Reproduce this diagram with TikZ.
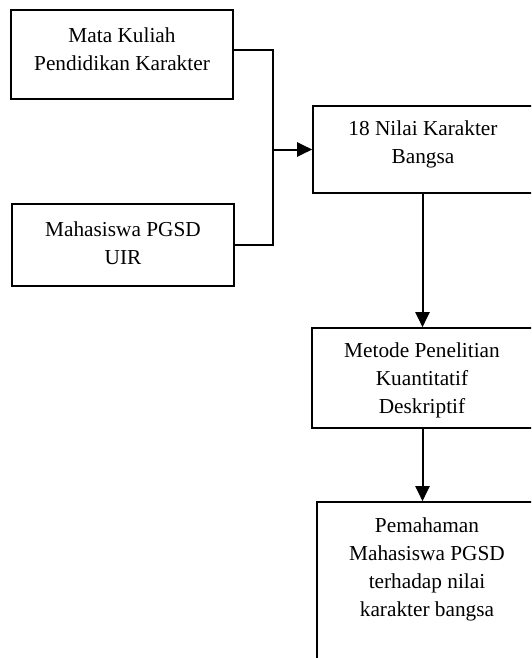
\documentclass[tikz,border=0pt]{standalone}
\usepackage{fontspec}
\setmainfont{Liberation Serif}
\usetikzlibrary{arrows.meta}
\begin{document}
\begin{tikzpicture}[x=1pt,y=-1pt,
  box/.style={draw=black,line width=1.6pt,rectangle,inner sep=0pt},
  txt/.style={align=center,inner sep=0pt,font=\fontsize{21.3}{28}\selectfont},
  conn/.style={draw=black,line width=2pt},
  arr/.style={conn,-{Triangle[length=15pt,width=14pt]}}]
\useasboundingbox (0,0) rectangle (531,658);
\clip (0,0) rectangle (531,658);
\fill[white] (0,0) rectangle (531,658);
% boxes
\node[box,minimum width=222pt,minimum height=89pt] (b1) at (122,54.5) {};
\node[box,minimum width=222pt,minimum height=82pt] (b2) at (123,245) {};
\node[box,minimum width=221pt,minimum height=87pt] (b3) at (423.5,149.5) {};
\node[box,minimum width=221pt,minimum height=100pt] (b4) at (422.5,378) {};
\node[box,minimum width=220pt,minimum height=178pt] (b5) at (427,591) {};
% texts
\node[txt] (t1) at (122,49) {Mata Kuliah\\Pendidikan Karakter};
\node[txt] (t2) at (123,243) {Mahasiswa PGSD\\UIR};
\node[txt] (t3) at (423,144.5) {18 Nilai Karakter\\Bangsa};
\node[txt] (t4) at (422,380) {Metode Penelitian\\Kuantitatif\\Deskriptif};
\node[txt] (t5) at (427,569) {Pemahaman\\Mahasiswa PGSD\\terhadap nilai\\karakter bangsa};
% connectors
\coordinate (jt) at (273,50);
\coordinate (jm) at (273,149.5);
\coordinate (jb) at (273,245);
\draw[conn] (b1.east |- jt) -- (jt) -- (jb) -- (b2.east);
\draw[arr] (jm) -- (b3.west);
\draw[arr] (b3.south -| b4.north) -- (b4.north);
\draw[arr] (b4.south) -- (b4.south |- b5.north);
\end{tikzpicture}
\end{document}
